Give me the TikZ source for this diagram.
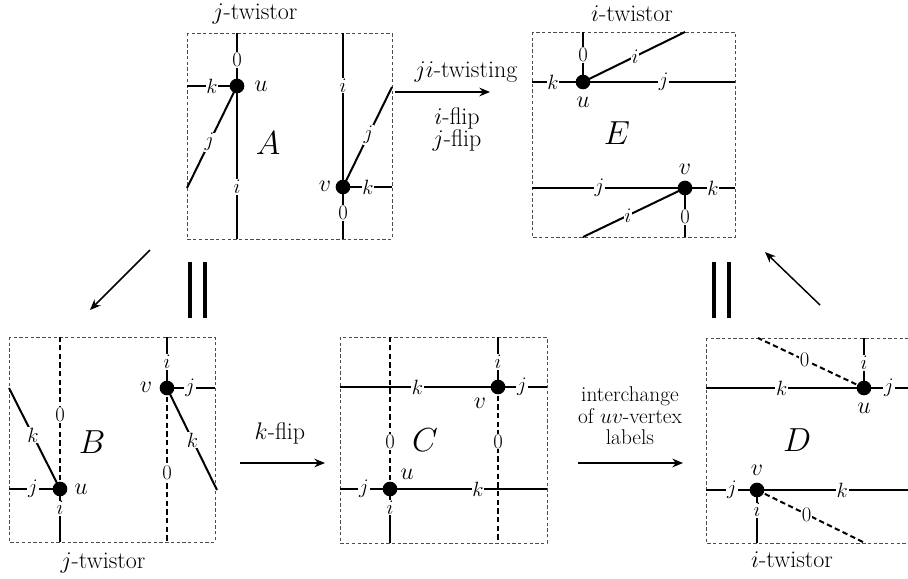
\RequirePackage{fix-cm}
\documentclass[tikz,border=0pt]{standalone}
\usetikzlibrary{arrows.meta}
\begin{document}
\begin{tikzpicture}[x=0.75pt,y=-0.75pt,
  every node/.style={font=\fontsize{18}{21}\selectfont},
  panelbox/.style={draw=black!70, dash pattern=on 2.5pt off 1.8pt, line width=0.6pt},
  edge/.style={line width=1.5pt},
  zedge/.style={line width=1.5pt, dash pattern=on 4pt off 2.5pt},
  elab/.style={fill=white, inner sep=0.6pt, font=\fontsize{15.5}{17}\selectfont},
  vtx/.style={circle, fill=black, minimum size=11pt, inner sep=0pt},
  biglab/.style={font=\fontsize{25}{28}\selectfont},
  conn/.style={line width=1.1pt, -{Stealth[length=8pt,width=6.5pt]}},
  eqbar/.style={line width=3pt},
  tightline/.style={anchor=base, inner sep=0pt},
  cdline/.style={tightline, font=\fontsize{16}{19}\selectfont},
]
\useasboundingbox (0,0) rectangle (908,579);

% ---------------- Panel A ----------------
\draw[panelbox] (187,33) rectangle (392,239);
\coordinate (uA) at (237,86);
\coordinate (vA) at (343,187);
\coordinate (uAn) at (237,33);
\coordinate (uAs) at (237,239);
\coordinate (uAw) at (187,86);
\coordinate (uAsw) at (187,188);
\coordinate (vAn) at (343,33);
\coordinate (vAs) at (343,239);
\coordinate (vAe) at (392,187);
\coordinate (vAne) at (392,87);
\draw[edge] (uA) -- node[elab,pos=0.49] (lA1) {0} (uAn);
\draw[edge] (uA) -- node[elab,pos=0.66] (lA2) {$i$} (uAs);
\draw[edge] (uA) -- node[elab,pos=0.5] (lA3) {$k$} (uAw);
\draw[edge] (uA) -- node[elab,pos=0.55] (lA4) {$j$} (uAsw);
\draw[edge] (vA) -- node[elab,pos=0.66] (lA5) {$i$} (vAn);
\draw[edge] (vA) -- node[elab,pos=0.5] (lA6) {0} (vAs);
\draw[edge] (vA) -- node[elab,pos=0.51] (lA7) {$k$} (vAe);
\draw[edge] (vA) -- node[elab,pos=0.52] (lA8) {$j$} (vAne);
\node[vtx] (duA) at (uA) {};
\node[vtx] (dvA) at (vA) {};
\node (tuA) at (261,86) {$u$};
\node (tvA) at (325,186) {$v$};
\node[biglab] (nA) at (268,143) {$A$};
\node (twA) at (255,14) {$j$-twistor};

% ---------------- Panel E ----------------
\draw[panelbox] (532,32) rectangle (735,237);
\coordinate (uE) at (583,82);
\coordinate (vE) at (685,188);
\coordinate (uEw) at (532,82);
\coordinate (uEe) at (735,82);
\coordinate (uEn) at (583,32);
\coordinate (uEne) at (685,32);
\coordinate (vEw) at (532,188);
\coordinate (vEe) at (735,188);
\coordinate (vEs) at (685,237);
\coordinate (vEsw) at (583,237);
\draw[edge] (uE) -- node[elab,pos=0.59] (lE1) {$k$} (uEw);
\draw[edge] (uE) -- node[elab,pos=0.53] (lE2) {$j$} (uEe);
\draw[edge] (uE) -- node[elab,pos=0.54] (lE3) {0} (uEn);
\draw[edge] (uE) -- node[elab,pos=0.51] (lE4) {$i$} (uEne);
\draw[edge] (vE) -- node[elab,pos=0.56] (lE5) {$j$} (vEw);
\draw[edge] (vE) -- node[elab,pos=0.56] (lE6) {$k$} (vEe);
\draw[edge] (vE) -- node[elab,pos=0.59] (lE7) {0} (vEs);
\draw[edge] (vE) -- node[elab,pos=0.56] (lE8) {$i$} (vEsw);
\node[vtx] (duE) at (uE) {};
\node[vtx] (dvE) at (vE) {};
\node (tuE) at (583,102) {$u$};
\node (tvE) at (685,169) {$v$};
\node[biglab] (nE) at (617,133) {$E$};
\node (twE) at (632,14) {$i$-twistor};

% ---------------- Panel B ----------------
\draw[panelbox] (9,337) rectangle (215,542);
\coordinate (uB) at (60,489);
\coordinate (vB) at (167,388);
\coordinate (uBn) at (60,337);
\coordinate (uBs) at (60,542);
\coordinate (uBw) at (9,489);
\coordinate (uBnw) at (9,388);
\coordinate (vBn) at (167,337);
\coordinate (vBs) at (167,542);
\coordinate (vBe) at (215,388);
\coordinate (vBse) at (217,490);
\draw[zedge] (uB) -- node[elab,pos=0.49] (lB1) {0} (uBn);
\draw[edge] (uB) -- node[elab,pos=0.36] (lB2) {$i$} (uBs);
\draw[edge] (uB) -- node[elab,pos=0.53] (lB3) {$j$} (uBw);
\draw[edge] (uB) -- node[elab,pos=0.53] (lB4) {$k$} (uBnw);
\draw[edge] (vB) -- node[elab,pos=0.51] (lB5) {$i$} (vBn);
\draw[zedge] (vB) -- node[elab,pos=0.55] (lB6) {0} (vBs);
\draw[edge] (vB) -- node[elab,pos=0.48] (lB7) {$j$} (vBe);
\draw[edge] (vB) -- node[elab,pos=0.51] (lB8) {$k$} (vBse);
\node[vtx] (duB) at (uB) {};
\node[vtx] (dvB) at (vB) {};
\node (tuB) at (81,489) {$u$};
\node (tvB) at (146,387) {$v$};
\node[biglab] (nB) at (92,442) {$B$};
\node (twB) at (103,563) {$j$-twistor};

% ---------------- Panel C ----------------
\draw[panelbox] (340,337) rectangle (547,543);
\coordinate (uC) at (390,489);
\coordinate (vC) at (498,387);
\coordinate (uCn) at (390,337);
\coordinate (uCs) at (390,543);
\coordinate (uCw) at (340,489);
\coordinate (uCe) at (547,489);
\coordinate (vCw) at (340,387);
\coordinate (vCe) at (547,387);
\coordinate (vCn) at (498,337);
\coordinate (vCs) at (498,543);
\draw[zedge] (uC) -- node[elab,pos=0.31] (lC1) {0} (uCn);
\draw[edge] (uC) -- node[elab,pos=0.35] (lC2) {$i$} (uCs);
\draw[edge] (uC) -- node[elab,pos=0.52] (lC3) {$j$} (uCw);
\draw[edge] (uC) -- node[elab,pos=0.56] (lC4) {$k$} (uCe);
\draw[edge] (vC) -- node[elab,pos=0.51] (lC5) {$k$} (vCw);
\draw[edge] (vC) -- node[elab,pos=0.49] (lC6) {$j$} (vCe);
\draw[edge] (vC) -- node[elab,pos=0.5] (lC7) {$i$} (vCn);
\draw[zedge] (vC) -- node[elab,pos=0.35] (lC8) {0} (vCs);
\node[vtx] (duC) at (uC) {};
\node[vtx] (dvC) at (vC) {};
\node (tuC) at (407,474) {$u$};
\node (tvC) at (480,403) {$v$};
\node[biglab] (nC) at (425,440) {$C$};

% ---------------- Panel D ----------------
\draw[panelbox] (706,338) rectangle (912,543);
\coordinate (uD) at (864,388);
\coordinate (vD) at (757,490);
\coordinate (uDw) at (706,388);
\coordinate (uDe) at (912,388);
\coordinate (uDn) at (864,338);
\coordinate (uDnw) at (758,338);
\coordinate (vDw) at (706,490);
\coordinate (vDe) at (912,490);
\coordinate (vDs) at (757,543);
\coordinate (vDse) at (865,543);
\draw[edge] (uD) -- node[elab,pos=0.52] (lD1) {$k$} (uDw);
\draw[edge] (uD) -- node[elab,pos=0.52] (lD2) {$j$} (uDe);
\draw[edge] (uD) -- node[elab,pos=0.5] (lD3) {$i$} (uDn);
\draw[zedge] (uD) -- node[elab,pos=0.56] (lD4) {0} (uDnw);
\draw[edge] (vD) -- node[elab,pos=0.49] (lD5) {$j$} (vDw);
\draw[edge] (vD) -- node[elab,pos=0.55] (lD6) {$k$} (vDe);
\draw[edge] (vD) -- node[elab,pos=0.38] (lD7) {$i$} (vDs);
\draw[zedge] (vD) -- node[elab,pos=0.46] (lD8) {0} (vDse);
\node[vtx] (duD) at (uD) {};
\node[vtx] (dvD) at (vD) {};
\node (tuD) at (864,408) {$u$};
\node (tvD) at (757,470) {$v$};
\node[biglab] (nD) at (797,440) {$D$};
\node (twD) at (792,560) {$i$-twistor};

% ---------------- Transitions ----------------
\coordinate (aeS) at (395,92);
\coordinate (aeE) at (490,92);
\draw[conn] (aeS) -- (aeE);
\node (tAE1) at (466,72) {$ji$-twisting};
\node[tightline] (tAE2) at (457,124) {$i$-flip};
\node[tightline] (tAE3) at (457,146) {$j$-flip};

\coordinate (abS) at (150,250);
\coordinate (abE) at (90,310);
\draw[conn] (abS) -- (abE);
\draw[eqbar] (190,262) -- (190,318);
\draw[eqbar] (205,262) -- (205,318);

\coordinate (bcS) at (240,463);
\coordinate (bcE) at (325,463);
\draw[conn] (bcS) -- (bcE);
\node (tBC) at (280,433) {$k$-flip};

\coordinate (cdS) at (578,463);
\coordinate (cdE) at (683,463);
\draw[conn] (cdS) -- (cdE);
\node[cdline] (tCD1) at (630,401) {interchange};
\node[cdline] (tCD2) at (630,423) {of $uv$-vertex};
\node[cdline] (tCD3) at (630,444) {labels};

\coordinate (deS) at (820,305);
\coordinate (deE) at (765,252);
\draw[conn] (deS) -- (deE);
\draw[eqbar] (714,262) -- (714,318);
\draw[eqbar] (729,262) -- (729,318);
\end{tikzpicture}
\end{document}
